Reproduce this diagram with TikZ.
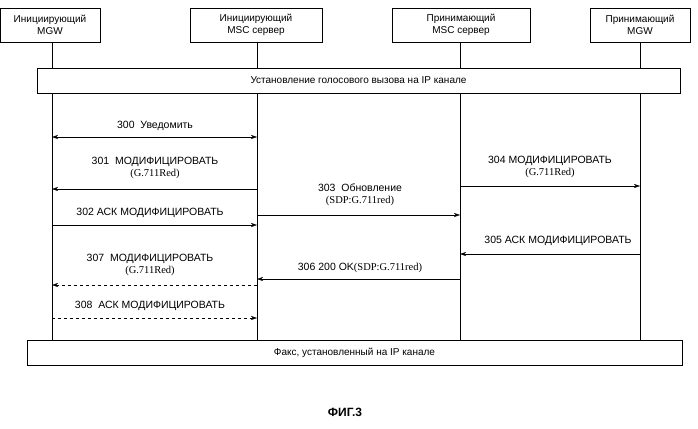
\documentclass[tikz,border=0pt]{standalone}
\usepackage{fontspec}
\setmainfont{Liberation Sans}
\newfontfamily\serf{Liberation Serif}
\usetikzlibrary{arrows.meta}
\begin{document}
\begin{tikzpicture}[x=1pt,y=-1pt,
  hdr/.style={draw,minimum height=34pt,align=center,font=\fontsize{10}{11.5}\selectfont,inner sep=1pt},
  bar/.style={draw,minimum height=25pt,font=\fontsize{10}{11}\selectfont},
  msg/.style={-{Stealth[length=6pt,width=4pt]},thin},
  lab/.style={font=\fontsize{10.5}{12}\selectfont,align=center,inner sep=1pt}]
\useasboundingbox (0,0) rectangle (698,428);
\node[hdr,minimum width=100pt] (h1) at (50,25) {Инициирующий\\MGW};
\node[hdr,minimum width=132pt] (h2) at (256,25) {Инициирующий\\MSC сервер};
\node[hdr,minimum width=138pt] (h3) at (461,25) {Принимающий\\MSC сервер};
\node[hdr,minimum width=100pt] (h4) at (640,25) {Принимающий\\MGW};
\foreach \i/\x in {1/52,2/257,3/460,4/640}{
  \coordinate (t\i) at (\x,42);
  \coordinate (b\i) at (\x,340);
  \draw (t\i) -- (b\i);
  \foreach \n/\y in {137/137,189/189,215/215,186/186,225/225,254/254,279/279,285/285,318/318}
    \coordinate (p\i-\n) at (\x,\y);
}
\node[bar,fill=white,minimum width=643pt] (bar1) at (358.5,80.5) {Установление голосового вызова на IP канале};
\node[bar,fill=white,minimum width=655pt] (bar2) at (354.5,352.5) {Факс, установленный на IP канале};
\draw[{Stealth[length=6pt,width=4pt]}-{Stealth[length=6pt,width=4pt]},thin] (p1-137) -- (p2-137);
\node[lab] at (155,126) {300\ \ Уведомить};
\draw[msg] (p2-189) -- (p1-189);
\node[lab] at (155,168) {301\ \ МОДИФИЦИРОВАТЬ\\{\serf (G.711Red)}};
\draw[msg] (p2-215) -- (p3-215);
\node[lab] at (360,195) {303\ \ Обновление\\{\serf (SDP:G.711red)}};
\draw[msg] (p3-186) -- (p4-186);
\node[lab] at (550,167) {304 МОДИФИЦИРОВАТЬ\\{\serf (G.711Red)}};
\draw[msg] (p1-225) -- (p2-225);
\node[lab] at (150,213) {302\ АСК МОДИФИЦИРОВАТЬ};
\draw[msg] (p4-254) -- (p3-254);
\node[lab] at (558,241) {305 АСК МОДИФИЦИРОВАТЬ};
\draw[msg] (p3-279) -- (p2-279);
\node[lab] at (360,268) {306 200 OK{\serf (SDP:G.711red)}};
\draw[msg,dashed] (p2-285) -- (p1-285);
\node[lab] at (150,265) {307\ \ МОДИФИЦИРОВАТЬ\\{\serf (G.711Red)}};
\draw[msg,dashed] (p1-318) -- (p2-318);
\node[lab] at (150,306) {308\ \ АСК МОДИФИЦИРОВАТЬ};
\node[font=\bfseries\fontsize{12}{13}\selectfont] (fig) at (345,412) {ФИГ.3};
\end{tikzpicture}
\end{document}
